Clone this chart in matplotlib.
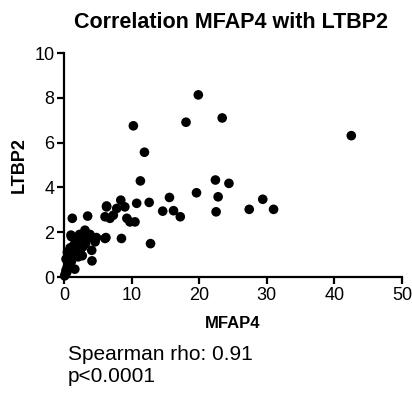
import matplotlib
matplotlib.use("Agg")
import matplotlib.pyplot as plt

mfap4 = [0.1, 0.2, 0.3, 0.4, 0.5, 0.6, 0.7, 0.8, 0.9, 1.0, 1.1, 1.2, 1.3, 1.4, 1.5,
         1.6, 1.7, 1.8, 2.0, 2.1, 2.2, 2.4, 2.5, 2.7, 2.8, 3.0, 3.2, 0.5, 0.9, 1.1,
         0.3, 2.3, 2.6, 1.23, 1.03, 3.1, 3.5, 4.6, 4.1, 4.14, 3.85, 4.8, 3.45, 2.6,
         6.3, 6.07, 8.5, 6.2, 8.4, 6.3, 9.0, 10.75, 12.6, 14.6, 6.07, 7.3, 7.8, 6.8,
         9.3, 9.76, 10.5, 12.8, 11.3, 11.9, 10.26, 18.05, 19.87, 19.6, 15.6, 16.2,
         17.2, 23.4, 42.5, 22.4, 24.4, 22.8, 22.5, 27.4, 29.4, 31.0]
ltbp2 = [0.05, 0.15, 0.3, 0.2, 0.45, 0.35, 0.6, 0.8, 0.5, 1.0, 0.7, 1.2, 0.9, 1.4, 1.1,
         0.35, 1.6, 1.3, 1.5, 0.9, 1.7, 1.2, 1.55, 0.95, 1.35, 1.75, 1.5, 1.1, 1.3, 1.8,
         0.8, 1.9, 1.8, 2.62, 1.87, 2.09, 2.72, 1.57, 1.19, 0.72, 1.9, 1.76, 1.72, 1.79,
         3.17, 1.72, 1.72, 1.76, 3.43, 3.13, 3.13, 3.29, 3.33, 2.94, 2.69, 2.76, 3.06, 2.62,
         2.62, 2.46, 2.46, 1.49, 4.29, 5.57, 6.75, 6.91, 8.13, 3.76, 3.55, 2.96,
         2.69, 7.1, 6.31, 4.33, 4.18, 3.58, 2.91, 3.02, 3.47, 3.02]

plt.rcParams['font.family'] = ['Liberation Sans', 'DejaVu Sans']

fig = plt.figure(figsize=(4.12, 3.94), dpi=100)
ax = fig.add_axes([64/412, 1-277/394, (402-64)/412, (277-53)/394])
ax.scatter(mfap4, ltbp2, s=48, c='black', edgecolors='none', clip_on=False, zorder=3)
ax.set_xlim(0, 50)
ax.set_ylim(0, 10)
ax.set_xticks([0, 10, 20, 30, 40, 50])
ax.set_yticks([0, 2, 4, 6, 8, 10])
for s in ['top', 'right']:
    ax.spines[s].set_visible(False)
for s in ['left', 'bottom']:
    ax.spines[s].set_linewidth(1.6)
ax.tick_params(width=1.6, length=5, labelsize=13, pad=2)
ax.set_xlabel('MFAP4', fontsize=12, fontweight='bold', va='center')
ax.xaxis.set_label_coords(0.5, (277-323)/224)
ax.set_ylabel('LTBP2', fontsize=13, fontweight='bold', va='center')
ax.yaxis.set_label_coords((19-64)/338, 0.5)
fig.text(231/412, 1-22/394, 'Correlation MFAP4 with LTBP2', ha='center', va='center',
         fontsize=15.5, fontweight='bold')
fig.text(68/412, 1-355/394, 'Spearman rho: 0.91', ha='left', va='center', fontsize=15)
fig.text(68/412, 1-377/394, 'p<0.0001', ha='left', va='center', fontsize=15)
fig.savefig('out.png', dpi=100)
